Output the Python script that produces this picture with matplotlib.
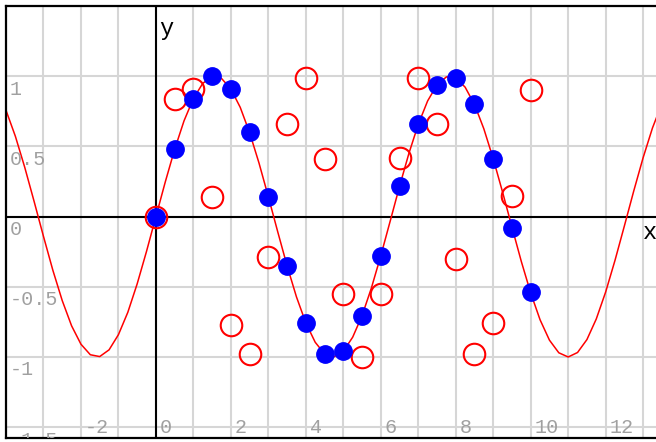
import numpy as np
import matplotlib.pyplot as plt
import matplotlib.transforms as mtransforms

# 红色曲线 y = sin(x)，按 0.25 的步长读出来的值
curve_x = np.arange(-4, 13.75, 0.25)
curve_y = [0.757, 0.572, 0.351, 0.108, -0.141, -0.382, -0.598, -0.778,
           -0.909, -0.984, -0.997, -0.949, -0.841, -0.682, -0.479, -0.247,
           0.0, 0.247, 0.479, 0.682, 0.841, 0.949, 0.997, 0.984,
           0.909, 0.778, 0.598, 0.382, 0.141, -0.108, -0.351, -0.572,
           -0.757, -0.895, -0.978, -0.999, -0.959, -0.859, -0.706, -0.508,
           -0.279, -0.033, 0.215, 0.450, 0.657, 0.824, 0.938, 0.995,
           0.989, 0.922, 0.799, 0.625, 0.412, 0.174, -0.075, -0.320,
           -0.544, -0.735, -0.880, -0.970, -1.000, -0.968, -0.876, -0.729,
           -0.537, -0.311, -0.066, 0.183, 0.420, 0.632, 0.804]

# 点的横坐标
pts_x = np.arange(0, 10.5, 0.5)
# 蓝色实心点（落在曲线上）
blue_y = [0.0, 0.48, 0.84, 1.0, 0.91, 0.6, 0.14, -0.35, -0.76, -0.98, -0.96,
          -0.71, -0.28, 0.22, 0.66, 0.94, 0.99, 0.8, 0.41, -0.08, -0.54]
# 红色空心圈
red_y = [0.0, 0.84, 0.91, 0.14, -0.77, -0.98, -0.29, 0.66, 0.99, 0.41, -0.55,
         -1.0, -0.55, 0.42, 0.99, 0.66, -0.3, -0.98, -0.76, 0.15, 0.9]

x_labels = [-2, 0, 2, 4, 6, 8, 10, 12]
y_labels = [1, 0.5, 0, -0.5, -1, -1.5]

font = 'Liberation Mono'
grey = '#a0a0a0'

fig = plt.figure(figsize=(6.56, 4.42), dpi=100)
W, H = 656, 442
# 画板：左上角在 (6, 6) 像素处，右边伸出图外
ax = fig.add_axes([6 / W, 4 / H, 656 / W, 432 / H])
ax.set_xlim(-3.99, -3.99 + 656 / 37.5)
ax.set_ylim(-1.577, -1.577 + 432 / 142)

ax.set_xticks(np.arange(-4, 14, 1))
ax.set_yticks(np.arange(-1.5, 1.6, 0.5))
ax.set_axisbelow(True)
ax.grid(color='#d6d6d6', linewidth=1.5)
ax.tick_params(length=0, labelbottom=False, labelleft=False)
for s in ax.spines.values():
    s.set_linewidth(1.6)
    s.set_color('black')

# 坐标轴（过原点）
ax.axhline(0, color='black', linewidth=1.5, zorder=1.8)
ax.axvline(0, color='black', linewidth=1.5, zorder=1.8)

ax.plot(curve_x, curve_y, color='red', linewidth=1.1, zorder=2)
ax.plot(pts_x, red_y, 'o', markersize=15.5, markerfacecolor='none',
        markeredgecolor='red', markeredgewidth=1.5, zorder=3)
ax.plot(pts_x, blue_y, 'o', markersize=12.5, color='blue', zorder=4)

# 刻度数字：横轴的贴在下边，纵轴的贴在左边
tx = mtransforms.blended_transform_factory(ax.transData, ax.transAxes)
tx = mtransforms.offset_copy(tx, fig=fig, x=4, y=5, units='dots')
for v in x_labels:
    ax.text(v, 0, str(v), transform=tx, ha='left', va='baseline',
            fontsize=14.5, family=font, color=grey, clip_on=True)

ty = mtransforms.blended_transform_factory(ax.transAxes, ax.transData)
ty = mtransforms.offset_copy(ty, fig=fig, x=4, y=-18.5, units='dots')
for v in y_labels:
    ax.text(0, v, str(v), transform=ty, ha='left', va='baseline',
            fontsize=14.5, family=font, color=grey, clip_on=True)

ax.text(0.1, 1.296, 'y', ha='left', va='baseline', fontsize=17, family=font, color='black')
ax.text(13.0, -0.162, 'x', ha='left', va='baseline', fontsize=17, family=font, color='black')

fig.savefig('out.png', dpi=100)
